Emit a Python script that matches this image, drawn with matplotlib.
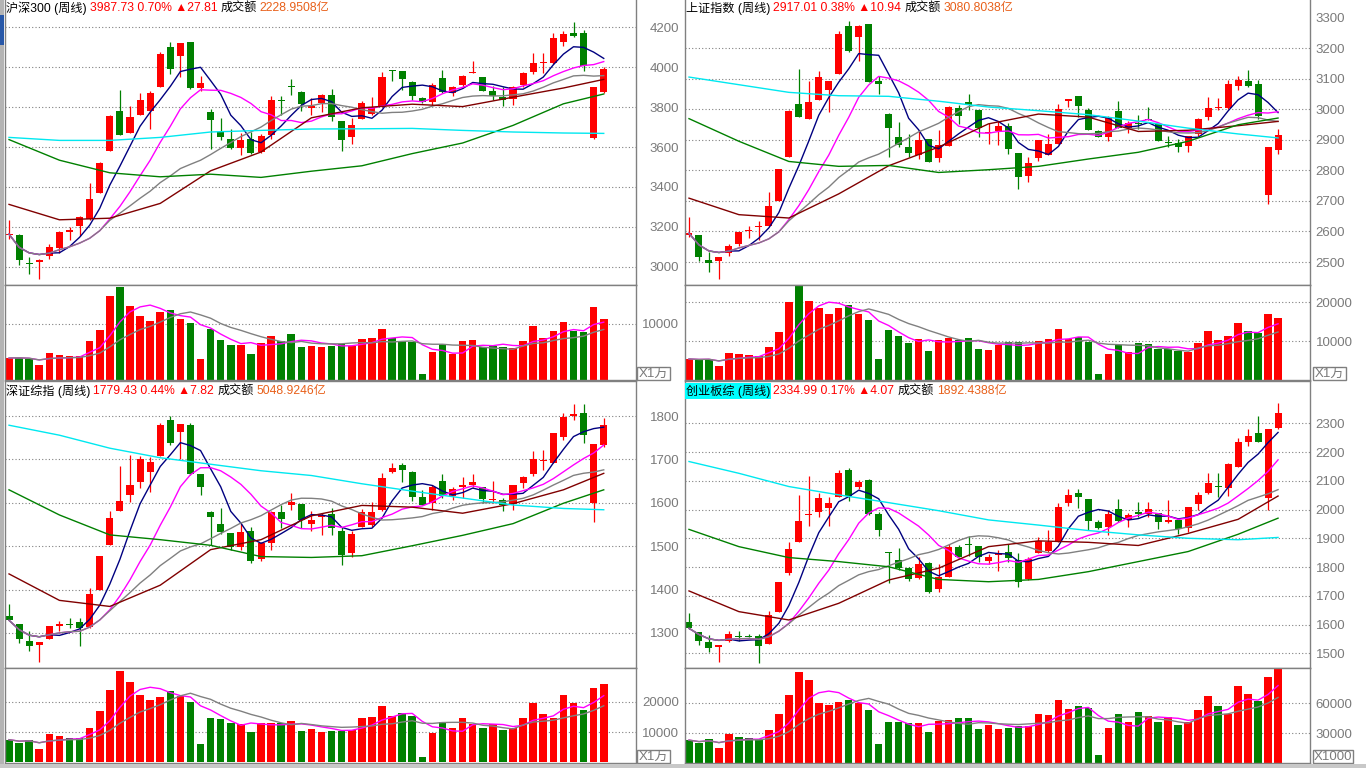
import numpy as np
import pandas as pd
import matplotlib
matplotlib.use('Agg')
import matplotlib.pyplot as plt
from matplotlib.patches import Rectangle

FONT = ['Liberation Sans', 'Noto Sans CJK SC', 'DejaVu Sans']
plt.rcParams['font.family'] = FONT

W, H = 1366, 768

# ---- weekly data, 60 weeks ----
hs300_open = [3158,3159,3019,3024,3053,3095,3173,3207,3241,3372,3580,3782,3670,3758,3779,3902,4101,4056,4125,3895,
              3777,3673,3638,3597,3642,3575,3658,3835,3902,3877,3796,3819,3860,3728,3650,3741,3763,3802,3981,3978,
              3927,3844,3824,3945,3870,3910,3971,3948,3879,3850,3839,3912,3973,4018,4018,4125,4170,4170,3645,3874]
hs300_high = [3236,3164,3050,3040,3115,3178,3202,3255,3421,3524,3759,3885,3806,3869,3880,4076,4124,4120,4125,3955,
              3791,3746,3691,3671,3675,3666,3857,3855,3938,3882,3845,3865,3890,3728,3743,3832,3849,3973,3985,3981,
              3932,3849,3922,3986,3907,3961,4031,3950,3907,3902,3905,3973,4072,4069,4172,4180,4225,4183,3902,3998]
hs300_low = [3140,3012,2967,2941,3040,3070,3133,3153,3236,3368,3580,3658,3670,3758,3691,3902,3965,3948,3890,3879,
             3592,3633,3589,3562,3567,3570,3642,3758,3862,3782,3758,3774,3729,3580,3613,3741,3758,3799,3932,3885,
             3835,3819,3812,3869,3854,3895,3968,3879,3835,3807,3812,3902,3965,3968,4014,4106,4150,3978,3640,3869]
hs300_close = [3164,3033,3015,3037,3098,3173,3186,3249,3338,3522,3754,3658,3748,3837,3872,4067,3991,4120,3895,3920,
               3733,3650,3597,3633,3570,3657,3835,3832,3898,3816,3806,3862,3749,3637,3711,3822,3799,3951,3978,3940,
               3854,3824,3910,3874,3898,3955,3976,3882,3857,3837,3898,3971,4021,4021,4145,4164,4155,4006,3902,3988]
hs300_vol = [3927,3987,3749,2678,4820,4403,4284,4284,6962,8925,15054,16601,13269,11424,10532,12138,12495,10889,10115,3749,
             9104,7140,6248,6248,4641,6664,7854,6902,8211,5891,6069,5950,6069,6426,6069,7319,7497,9104,7497,7021,
             6783,1071,5058,6426,4641,6902,7140,5891,6069,5950,5772,6902,9639,7497,8747,10353,8806,8568,13031,10889]

sh_open = [2589,2588,2508,2502,2529,2559,2600,2615,2617,2701,2842,3017,2969,3029,3062,3116,3273,3236,3280,3093,
           2985,2908,2877,2850,2902,2839,2880,3005,3022,2998,2922,2930,2946,2858,2783,2839,2851,2887,3027,3043,
           2998,2927,2908,2995,2940,2953,2965,2951,2892,2888,2878,2919,2973,3003,3004,3075,3093,3082,2718,2868]
sh_high = [2647,2590,2533,2518,2559,2598,2619,2633,2728,2804,2998,3131,3093,3126,3093,3255,3289,3276,3280,3109,
           2987,2959,2920,2933,2902,2931,3011,3014,3051,2998,2955,2962,2955,2858,2842,2900,2919,3018,3033,3043,
           3004,2933,2979,3028,2960,2982,3007,2951,2913,2902,2913,2971,3040,3036,3096,3107,3129,3096,2877,2935]
sh_low = [2582,2502,2466,2444,2521,2551,2578,2571,2617,2701,2842,2973,2969,3029,2990,3116,3186,3156,3088,3051,
          2842,2875,2842,2837,2826,2826,2880,2951,2998,2909,2887,2882,2854,2739,2761,2831,2851,2887,3007,2974,
          2933,2908,2895,2940,2922,2935,2963,2895,2875,2861,2859,2913,2966,2996,3002,3064,3072,2968,2690,2853]
sh_close = [2594,2518,2497,2516,2554,2598,2604,2619,2684,2804,2995,2973,3024,3105,3093,3247,3191,3273,3088,3082,
            2940,2884,2857,2900,2828,2883,3006,2979,3012,2937,2926,2944,2871,2777,2824,2900,2887,3002,3032,3009,
            2933,2908,2971,2940,2955,2952,2963,2895,2890,2875,2913,2968,3004,3005,3082,3094,3077,2979,2877,2917]
sh_vol = [5405,5148,5405,3604,7036,6692,6435,6178,8580,12184,19906,24024,20335,18533,16988,18533,19305,16988,15444,5405,
          12698,11154,9610,10468,7465,10296,10897,10296,10897,7979,7722,9009,9781,9781,8580,9953,10553,13127,10468,11068,
          9781,1544,6692,8923,7293,9524,9266,7894,7979,7550,7293,9524,12613,10296,11326,14500,12613,12012,16988,15959]

sz_open = [1340,1321,1282,1272,1287,1315,1321,1325,1313,1400,1502,1581,1617,1649,1672,1708,1792,1764,1780,1667,
           1578,1552,1530,1499,1535,1470,1507,1579,1595,1598,1552,1568,1575,1535,1484,1545,1548,1584,1672,1687,
           1670,1613,1599,1650,1616,1636,1640,1637,1607,1607,1597,1645,1667,1696,1693,1751,1801,1808,1599,1733]
sz_high = [1367,1321,1304,1280,1315,1327,1335,1335,1404,1478,1581,1685,1710,1709,1705,1785,1800,1781,1783,1667,
           1580,1588,1530,1553,1545,1509,1582,1595,1622,1598,1580,1576,1588,1545,1534,1585,1603,1668,1693,1691,
           1674,1630,1642,1667,1637,1659,1667,1637,1650,1611,1640,1663,1719,1722,1762,1808,1829,1829,1735,1795]
sz_low = [1329,1277,1258,1233,1287,1304,1311,1269,1311,1400,1502,1580,1603,1634,1624,1708,1733,1701,1664,1618,
          1502,1528,1492,1492,1461,1465,1492,1542,1584,1542,1534,1525,1525,1457,1476,1544,1545,1582,1668,1649,
          1605,1595,1584,1611,1607,1611,1637,1599,1599,1580,1584,1634,1663,1676,1693,1746,1791,1739,1555,1729]
sz_close = [1329,1286,1269,1280,1315,1321,1319,1311,1390,1478,1565,1604,1641,1701,1694,1779,1739,1781,1667,1637,
            1568,1532,1497,1532,1465,1507,1578,1563,1601,1561,1561,1573,1542,1480,1527,1579,1579,1657,1680,1676,
            1613,1595,1636,1616,1631,1640,1647,1608,1608,1595,1640,1659,1700,1699,1762,1797,1806,1756,1735,1779]
sz_vol = [7444,6444,7333,4444,9444,8778,8111,8000,11444,17111,24111,30444,26778,22444,20778,21778,23778,21889,20111,6111,
          14778,14444,13111,12778,9889,13111,13111,13111,13778,10444,11111,10111,10444,10444,10778,14778,15111,18778,15444,16222,
          15444,1778,9778,13444,11444,14778,12667,11444,12778,10778,11444,14778,19778,16111,14778,22444,19778,17444,24778,26111]

cyb_open = [1608,1575,1538,1523,1544,1560,1560,1561,1532,1645,1778,1888,1982,1993,2007,2045,2138,2077,2103,1985,
            1851,1825,1796,1761,1813,1723,1767,1871,1877,1873,1821,1842,1851,1825,1759,1850,1857,1891,2024,2057,
            2037,1958,1938,2001,1964,1993,1985,1987,1958,1964,1937,2018,2057,2082,2074,2149,2236,2265,2041,2285]
cyb_high = [1641,1575,1564,1527,1579,1579,1567,1567,1648,1749,1886,2051,2118,2057,2045,2138,2143,2103,2105,1990,
            1854,1868,1801,1836,1819,1810,1879,1877,1908,1873,1846,1859,1880,1848,1836,1906,1929,2022,2070,2070,
            2037,1964,1999,2036,1989,2025,2025,1989,2033,1968,2010,2062,2126,2126,2163,2248,2279,2326,2281,2370]
cyb_low = [1583,1529,1506,1471,1541,1543,1556,1468,1532,1645,1772,1888,1944,1973,1944,2045,2031,2070,1981,1909,
           1743,1790,1752,1759,1709,1715,1764,1834,1839,1819,1810,1788,1817,1730,1755,1848,1854,1888,2012,2004,
           1929,1932,1912,1958,1941,1975,1975,1932,1954,1915,1923,1999,2053,2045,2048,2147,2222,2234,1999,2279]
cyb_close = [1587,1544,1520,1529,1567,1556,1558,1527,1633,1749,1863,1960,1985,2041,2022,2128,2048,2097,1985,1929,
             1848,1798,1757,1811,1715,1767,1871,1836,1875,1836,1836,1850,1830,1749,1828,1892,1886,2010,2051,2045,
             1960,1935,1983,1960,1981,1983,2001,1958,1964,1932,2008,2051,2091,2080,2157,2234,2257,2236,2279,2335]
cyb_vol = [22916,19883,23927,14828,29319,25949,24938,23927,33026,49202,68411,90653,82565,60323,57627,60660,63356,59986,53246,18872,
           41114,41114,40103,40103,31004,42125,43136,45158,45158,34037,38081,34037,35048,37070,37070,49202,48191,63356,54257,57290,
           54931,7751,35048,49202,41114,51224,47180,41114,45832,38081,41114,53246,67400,57290,49202,76836,68748,62345,85598,93686]

# long moving averages at these weeks
ma_idx = [0, 5, 10, 15, 20, 25, 30, 35, 40, 45, 50, 55, 59]
hs300_ma60 = [3313,3236,3244,3318,3481,3575,3746,3796,3814,3802,3849,3895,3938]
hs300_ma120 = [3637,3534,3471,3451,3464,3448,3479,3506,3567,3620,3708,3816,3865]
hs300_ma250 = [3648,3633,3633,3648,3675,3683,3690,3691,3693,3683,3675,3670,3668]
sh_ma60 = [2709,2655,2644,2723,2815,2876,2952,2984,2974,2927,2931,2946,2960]
sh_ma120 = [2969,2895,2829,2813,2816,2793,2802,2813,2837,2859,2895,2949,2971]
sh_ma250 = [3105,3080,3055,3044,3042,3026,3007,2995,2982,2961,2938,2919,2906]
sz_ma60 = [1436,1375,1361,1410,1492,1515,1570,1594,1590,1576,1598,1630,1668]
sz_ma120 = [1630,1572,1526,1515,1502,1476,1474,1478,1501,1525,1552,1599,1630]
sz_ma250 = [1779,1756,1726,1704,1689,1674,1663,1644,1627,1611,1595,1587,1584]
cyb_ma60 = [1717,1645,1616,1674,1755,1796,1871,1891,1886,1875,1917,1966,2047]
cyb_ma120 = [1931,1871,1833,1819,1801,1757,1749,1757,1784,1819,1854,1914,1970]
cyb_ma250 = [2167,2126,2080,2051,2024,1996,1964,1946,1927,1912,1900,1895,1903]

RED, GREEN = '#ff0000', '#008000'
GRAY = '#808080'
LBL = '#7a7a7a'

fig = plt.figure(figsize=(13.66, 7.68), dpi=100)
fig.patch.set_facecolor('white')


def rect(x0, y0, x1, y1):
    return [x0 / W, 1 - y1 / H, (x1 - x0) / W, (y1 - y0) / H]


def new_ax(x0, x1, y0, y1, top=True):
    ax = fig.add_axes(rect(x0, y0, x1, y1))
    for s in ax.spines.values():
        s.set_color(GRAY)
        s.set_linewidth(1)
    ax.spines['top'].set_visible(top)
    ax.set_xlim(-0.4, 62.2)
    ax.tick_params(left=False, bottom=False, right=False, labelleft=False, labelbottom=False)
    return ax


def dotted(ax, vals):
    for v in vals:
        ax.axhline(v, color=GRAY, lw=0.8, ls=(0, (1, 2)), zorder=0.5)


def draw_price(ax, o, h, l, c, m60, m120, m250, ylim, grid, hpx):
    o, h, l, c = map(np.array, (o, h, l, c))
    x = np.arange(len(c))
    col = np.where(c >= o, RED, GREEN)
    ax.set_ylim(*ylim)
    dotted(ax, grid)
    ax.vlines(x, l, h, colors=col, lw=0.9, zorder=2)
    px = (ylim[1] - ylim[0]) / hpx
    ax.bar(x, np.maximum(np.abs(c - o), px), bottom=np.minimum(o, c), width=0.7,
           color=col, lw=0, zorder=2.5)
    s = pd.Series(c)
    for n, cl in [(5, '#000080'), (10, '#ff00ff'), (20, GRAY)]:
        ax.plot(x, s.rolling(n, min_periods=1).mean(), color=cl, lw=1, zorder=3)
    for arr, cl in [(m60, '#800000'), (m120, '#008000'), (m250, '#00e8f0')]:
        ax.plot(ma_idx, arr, color=cl, lw=1, zorder=3)


def draw_vol(ax, o, c, v, ylim, grid):
    o, c, v = map(np.array, (o, c, v))
    x = np.arange(len(v))
    col = np.where(c >= o, RED, GREEN)
    ax.set_ylim(*ylim)
    dotted(ax, grid)
    ax.bar(x, v, width=0.75, color=col, lw=0, zorder=2)
    s = pd.Series(v)
    ax.plot(x, s.rolling(5, min_periods=1).mean(), color='#ff00ff', lw=1, zorder=3)
    ax.plot(x, s.rolling(10, min_periods=1).mean(), color=GRAY, lw=1, zorder=3)


def scale_labels(x0, x1, y0, y1, ylim, ticks, side):
    ax = fig.add_axes(rect(x0, y0, x1, y1), frameon=False)
    ax.patch.set_visible(False)
    ax.set_xticks([])
    ax.set_ylim(*ylim)
    ax.set_yticks(ticks)
    ax.set_yticklabels([str(t) for t in ticks])
    if side == 'right':
        ax.yaxis.tick_right()
    ax.tick_params(axis='y', length=0, pad=4, labelsize=9.5, labelcolor=LBL)


LX0, LX1 = 5, 636
RX0, RX1 = 685, 1310

# y limits (value at bottom, value at top of each axes)
hs_ylim = (2910, 4335)
sh_ylim = (2425, 3357)
sz_ylim = (1219, 1881)
cyb_ylim = (1449, 2447)
hs_vlim = (0, 16964)
sh_vlim = (0, 24359)
sz_vlim = (-333, 31333)
cyb_vlim = (0, 95000)

ax = new_ax(LX0, LX1, 0, 285, top=False)
draw_price(ax, hs300_open, hs300_high, hs300_low, hs300_close, hs300_ma60, hs300_ma120, hs300_ma250,
           hs_ylim, range(3000, 4201, 200), 285)
ax = new_ax(LX0, LX1, 285, 380)
draw_vol(ax, hs300_open, hs300_close, hs300_vol, hs_vlim, [10000])

ax = new_ax(RX0, RX1, 0, 285, top=False)
draw_price(ax, sh_open, sh_high, sh_low, sh_close, sh_ma60, sh_ma120, sh_ma250,
           sh_ylim, range(2500, 3201, 100), 285)
ax = new_ax(RX0, RX1, 285, 380)
draw_vol(ax, sh_open, sh_close, sh_vol, sh_vlim, [10000, 20000])

ax = new_ax(LX0, LX1, 381, 668)
draw_price(ax, sz_open, sz_high, sz_low, sz_close, sz_ma60, sz_ma120, sz_ma250,
           sz_ylim, range(1300, 1801, 100), 287)
ax = new_ax(LX0, LX1, 668, 763)
draw_vol(ax, sz_open, sz_close, sz_vol, sz_vlim, [10000, 20000])

ax = new_ax(RX0, RX1, 381, 668)
draw_price(ax, cyb_open, cyb_high, cyb_low, cyb_close, cyb_ma60, cyb_ma120, cyb_ma250,
           cyb_ylim, range(1500, 2301, 100), 287)
ax = new_ax(RX0, RX1, 668, 763)
draw_vol(ax, cyb_open, cyb_close, cyb_vol, cyb_vlim, [30000, 60000])

# axis labels: left column shows the left charts' scales, right column the right charts'
scale_labels(RX0, RX1, 0, 285, hs_ylim, list(range(3000, 4201, 200)), 'left')
scale_labels(RX0, RX1, 0, 285, sh_ylim, list(range(2500, 3301, 100)), 'right')
scale_labels(RX0, RX1, 285, 380, hs_vlim, [10000], 'left')
scale_labels(RX0, RX1, 285, 380, sh_vlim, [10000, 20000], 'right')
scale_labels(RX0, RX1, 381, 668, sz_ylim, list(range(1300, 1801, 100)), 'left')
scale_labels(RX0, RX1, 381, 668, cyb_ylim, list(range(1500, 2301, 100)), 'right')
scale_labels(RX0, RX1, 668, 763, sz_vlim, [10000, 20000], 'left')
scale_labels(RX0, RX1, 668, 763, cyb_vlim, [30000, 60000], 'right')


def unit_box(x0, y0, x1, y1, s):
    fig.add_artist(Rectangle((x0 / W, 1 - y1 / H), (x1 - x0) / W, (y1 - y0) / H,
                             transform=fig.transFigure, fill=False, ec=GRAY, lw=1))
    fig.text((x0 + x1) / 2 / W, 1 - (y0 + y1) / 2 / H, s, ha='center', va='center',
             fontsize=9.5, color=LBL)


unit_box(637, 367, 670, 380, 'X1万')
unit_box(1313, 367, 1346, 380, 'X1万')
unit_box(637, 750, 670, 763, 'X1万')
unit_box(1313, 750, 1353, 763, 'X1000')

# window edge decorations
fig.add_artist(Rectangle((0, 0), 4 / W, 1, transform=fig.transFigure, color='#b4b4b4', lw=0))
fig.add_artist(Rectangle((0, 1 - 45 / H), 4 / W, 30 / H, transform=fig.transFigure, color='#2858a8', lw=0))
fig.add_artist(Rectangle((0, 0), 1, 4 / H, transform=fig.transFigure, color='#c8c8c8', lw=0))

renderer = fig.canvas.get_renderer()


def header(x_px, y_px, parts):
    x = x_px
    for s, color, bg in parts:
        kw = {}
        if bg:
            kw['bbox'] = dict(boxstyle='square,pad=0.08', fc=bg, ec='none')
        t = fig.text(x / W, 1 - y_px / H, s, color=color, fontsize=8.7, va='center', ha='left', **kw)
        x += t.get_window_extent(renderer=renderer).width + 3


AMT = '#e8601a'
header(6, 8, [('沪深300 (周线)', 'black', None), ('3987.73 0.70% ▲27.81', RED, None),
              ('成交额', 'black', None), ('2228.9508亿', AMT, None)])
header(686, 8, [('上证指数 (周线)', 'black', None), ('2917.01 0.38% ▲10.94', RED, None),
                ('成交额', 'black', None), ('3080.8038亿', AMT, None)])
header(6, 391, [('深证综指 (周线)', 'black', None), ('1779.43 0.44% ▲7.82', RED, None),
                ('成交额', 'black', None), ('5048.9246亿', AMT, None)])
header(686, 391, [('创业板综 (周线)', 'black', '#00ffff'), ('2334.99 0.17% ▲4.07', RED, None),
                  ('成交额', 'black', None), ('1892.4388亿', AMT, None)])

fig.savefig('out.png', dpi=100, facecolor='white')
